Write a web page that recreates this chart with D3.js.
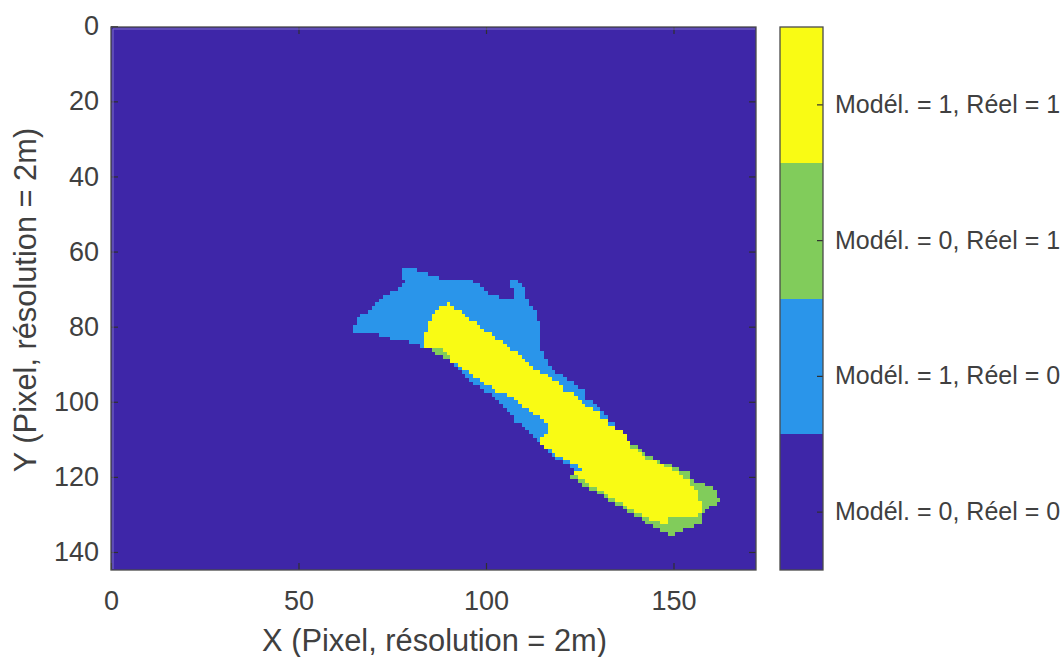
<!DOCTYPE html>
<html>
<head>
<meta charset="utf-8">
<script src="https://cdn.jsdelivr.net/npm/d3@7"></script>
<style>
  html, body { margin: 0; padding: 0; background: #fff; }
  svg { display: block; }
  text { font-family: "Liberation Sans", Arial, sans-serif; fill: #404040; }
  .tick text { font-size: 27px; }
  .bar-axis .tick text { font-size: 25px; }
  .tick line { stroke: #303030; stroke-width: 1.2; }
</style>
</head>
<body>
<div id="chart"></div>
<script>
const xTicks = [0, 50, 100, 150]
const yTicks = [0, 20, 40, 60, 80, 100, 120, 140]
const xDomain = [0, 172]
const yDomain = [0.2, 144.8]

const classLabels = [
  'Modél. = 0, Réel = 0',
  'Modél. = 1, Réel = 0',
  'Modél. = 0, Réel = 1',
  'Modél. = 1, Réel = 1'
]
const classColors = ['#3e26a8', '#2a95ea', '#81cc5b', '#f9fb14']
const barTicks = [0.43, 1.43, 2.43, 3.43]

// each entry: row, first column, column after the last
const blueSpans = [
  [65, 78, 82], [66, 78, 85], [67, 78, 88], [68, 79, 97], [68, 107, 109],
  [69, 78, 99], [69, 107, 110], [70, 77, 100], [70, 108, 111], [71, 75, 101],
  [71, 108, 111], [72, 73, 104], [72, 108, 111], [73, 72, 112], [74, 71, 112],
  [75, 70, 113], [76, 69, 114], [77, 67, 114], [78, 66, 114], [79, 66, 115],
  [80, 65, 115], [81, 65, 115], [82, 72, 115], [83, 75, 115], [84, 80, 115],
  [85, 83, 115], [86, 89, 115], [87, 90, 116], [88, 91, 116], [89, 91, 117],
  [90, 92, 117], [91, 93, 118], [92, 94, 119], [93, 95, 121], [94, 96, 122],
  [95, 97, 124], [96, 99, 125], [97, 100, 127], [98, 102, 127], [99, 103, 127],
  [100, 104, 129], [101, 105, 130], [102, 106, 131], [103, 107, 132], [104, 108, 133],
  [105, 108, 133], [106, 110, 135], [107, 111, 135], [108, 112, 137], [109, 113, 138],
  [110, 114, 138], [111, 115, 139], [112, 116, 139], [113, 117, 141], [114, 118, 142],
  [115, 119, 143], [116, 121, 146], [117, 123, 148], [118, 124, 150]
]

const greenSpans = [
  [86, 86, 89], [87, 87, 90], [88, 89, 91], [112, 139, 141], [113, 141, 142],
  [114, 142, 143], [115, 143, 145], [116, 146, 147], [117, 148, 150], [118, 150, 152],
  [119, 152, 155], [120, 123, 155], [121, 125, 156], [122, 126, 159], [123, 128, 161],
  [124, 130, 162], [125, 132, 162], [126, 133, 163], [127, 135, 162], [128, 137, 160],
  [129, 138, 159], [130, 140, 158], [131, 142, 158], [132, 143, 158], [133, 145, 156],
  [134, 147, 153], [135, 149, 151]
]

const yellowSpans = [
  [74, 90, 91], [75, 88, 92], [76, 87, 94], [77, 86, 95], [78, 86, 96],
  [79, 85, 98], [80, 85, 99], [81, 85, 100], [82, 84, 102], [83, 84, 103],
  [84, 84, 105], [85, 84, 106], [86, 89, 107], [87, 90, 109], [88, 91, 110],
  [89, 91, 111], [90, 93, 112], [91, 94, 113], [92, 96, 115], [93, 97, 117],
  [94, 99, 118], [95, 100, 120], [96, 102, 121], [97, 103, 121], [98, 106, 124],
  [99, 108, 125], [100, 109, 126], [101, 110, 127], [102, 112, 129], [103, 113, 131],
  [104, 115, 131], [105, 116, 133], [106, 117, 133], [107, 117, 135], [108, 117, 137],
  [109, 116, 138], [110, 115, 138], [111, 115, 139], [112, 116, 139], [113, 118, 141],
  [114, 119, 142], [115, 121, 143], [116, 123, 146], [117, 125, 148], [118, 126, 150],
  [119, 124, 152], [120, 125, 153], [121, 127, 155], [122, 128, 155], [123, 130, 156],
  [124, 132, 157], [125, 133, 157], [126, 135, 157], [127, 137, 158], [128, 138, 158],
  [129, 140, 158], [130, 142, 157], [131, 144, 149], [132, 147, 149]
]

const width = 1064
const height = 657
const plot = { left: 111, right: 756, top: 27, bottom: 570 }
const bar = { left: 780, right: 823 }

const svg = d3
  .select('#chart')
  .append('svg')
  .attr('width', width)
  .attr('height', height)

const xScale = d3.scaleLinear().domain(xDomain).range([plot.left, plot.right])
const yScale = d3.scaleLinear().domain(yDomain).range([plot.top, plot.bottom])

// Background class, then the three span layers

svg
  .append('rect')
  .attr('x', plot.left)
  .attr('y', plot.top)
  .attr('width', plot.right - plot.left)
  .attr('height', plot.bottom - plot.top)
  .attr('fill', classColors[0])

function drawSpans(spans, color) {
  svg
    .append('g')
    .selectAll('rect')
    .data(spans)
    .enter()
    .append('rect')
    .attr('shape-rendering', 'crispEdges')
    .attr('x', d => xScale(d[1] - 0.5))
    .attr('y', d => yScale(d[0] - 0.5))
    .attr('width', d => xScale(d[2] - 0.5) - xScale(d[1] - 0.5))
    .attr('height', d => yScale(d[0] + 0.5) - yScale(d[0] - 0.5) + 0.5)
    .attr('fill', color)
}

drawSpans(blueSpans, classColors[1])
drawSpans(greenSpans, classColors[2])
drawSpans(yellowSpans, classColors[3])

// Axes, ticks point inward like matlab

const xAxis = d3.axisBottom(xScale).tickValues(xTicks).tickSize(-7).tickPadding(21)
svg
  .append('g')
  .attr('transform', 'translate(0,' + plot.bottom + ')')
  .call(xAxis)
  .call(g => g.select('.domain').remove())

const yAxis = d3.axisLeft(yScale).tickValues(yTicks).tickSize(-7).tickPadding(12)
svg
  .append('g')
  .attr('transform', 'translate(' + plot.left + ',0)')
  .call(yAxis)
  .call(g => g.select('.domain').remove())

// right side and top ticks of the box
svg
  .append('g')
  .attr('transform', 'translate(' + plot.right + ',0)')
  .call(d3.axisRight(yScale).tickValues(yTicks.slice(1)).tickSize(-7).tickFormat(''))
  .call(g => g.select('.domain').remove())

svg
  .append('g')
  .attr('transform', 'translate(0,' + plot.top + ')')
  .call(d3.axisTop(xScale).tickValues(xTicks.slice(1)).tickSize(-7).tickFormat(''))
  .call(g => g.select('.domain').remove())

// the pale inner edge the image has along the left and top
svg
  .append('path')
  .attr('d', d3.line()([[plot.left + 2, plot.bottom - 1], [plot.left + 2, plot.top + 2], [plot.right - 1, plot.top + 2]]))
  .attr('fill', 'none')
  .attr('stroke', '#7f70c6')
  .attr('stroke-width', 1)

svg
  .append('rect')
  .attr('x', plot.left)
  .attr('y', plot.top)
  .attr('width', plot.right - plot.left)
  .attr('height', plot.bottom - plot.top)
  .attr('fill', 'none')
  .attr('stroke', '#4a4a4a')
  .attr('stroke-width', 1.3)

svg
  .append('text')
  .attr('x', (plot.left + plot.right) / 2 + 1)
  .attr('y', 651)
  .attr('text-anchor', 'middle')
  .attr('font-size', 30.8)
  .text('X (Pixel, résolution = 2m)')

svg
  .append('text')
  .attr('transform', 'translate(36,300) rotate(-90)')
  .attr('text-anchor', 'middle')
  .attr('font-size', 30.8)
  .text('Y (Pixel, résolution = 2m)')

// Colorbar: one band per class

const barScale = d3.scaleLinear().domain([0, classLabels.length]).range([plot.bottom, plot.top])

svg
  .append('g')
  .selectAll('rect')
  .data(classLabels)
  .enter()
  .append('rect')
  .attr('shape-rendering', 'crispEdges')
  .attr('x', bar.left)
  .attr('y', (d, i) => barScale(i + 1))
  .attr('width', bar.right - bar.left)
  .attr('height', (d, i) => barScale(i) - barScale(i + 1))
  .attr('fill', (d, i) => classColors[i])

const barAxis = d3
  .axisRight(barScale)
  .tickValues(barTicks)
  .tickSize(-6)
  .tickPadding(12)
  .tickFormat((d, i) => classLabels[i])

svg
  .append('g')
  .attr('class', 'bar-axis')
  .attr('transform', 'translate(' + bar.right + ',0)')
  .call(barAxis)
  .call(g => g.select('.domain').remove())

svg
  .append('rect')
  .attr('x', bar.left)
  .attr('y', plot.top)
  .attr('width', bar.right - bar.left)
  .attr('height', plot.bottom - plot.top)
  .attr('fill', 'none')
  .attr('stroke', '#4a4a4a')
  .attr('stroke-width', 1.3)
</script>
</body>
</html>
